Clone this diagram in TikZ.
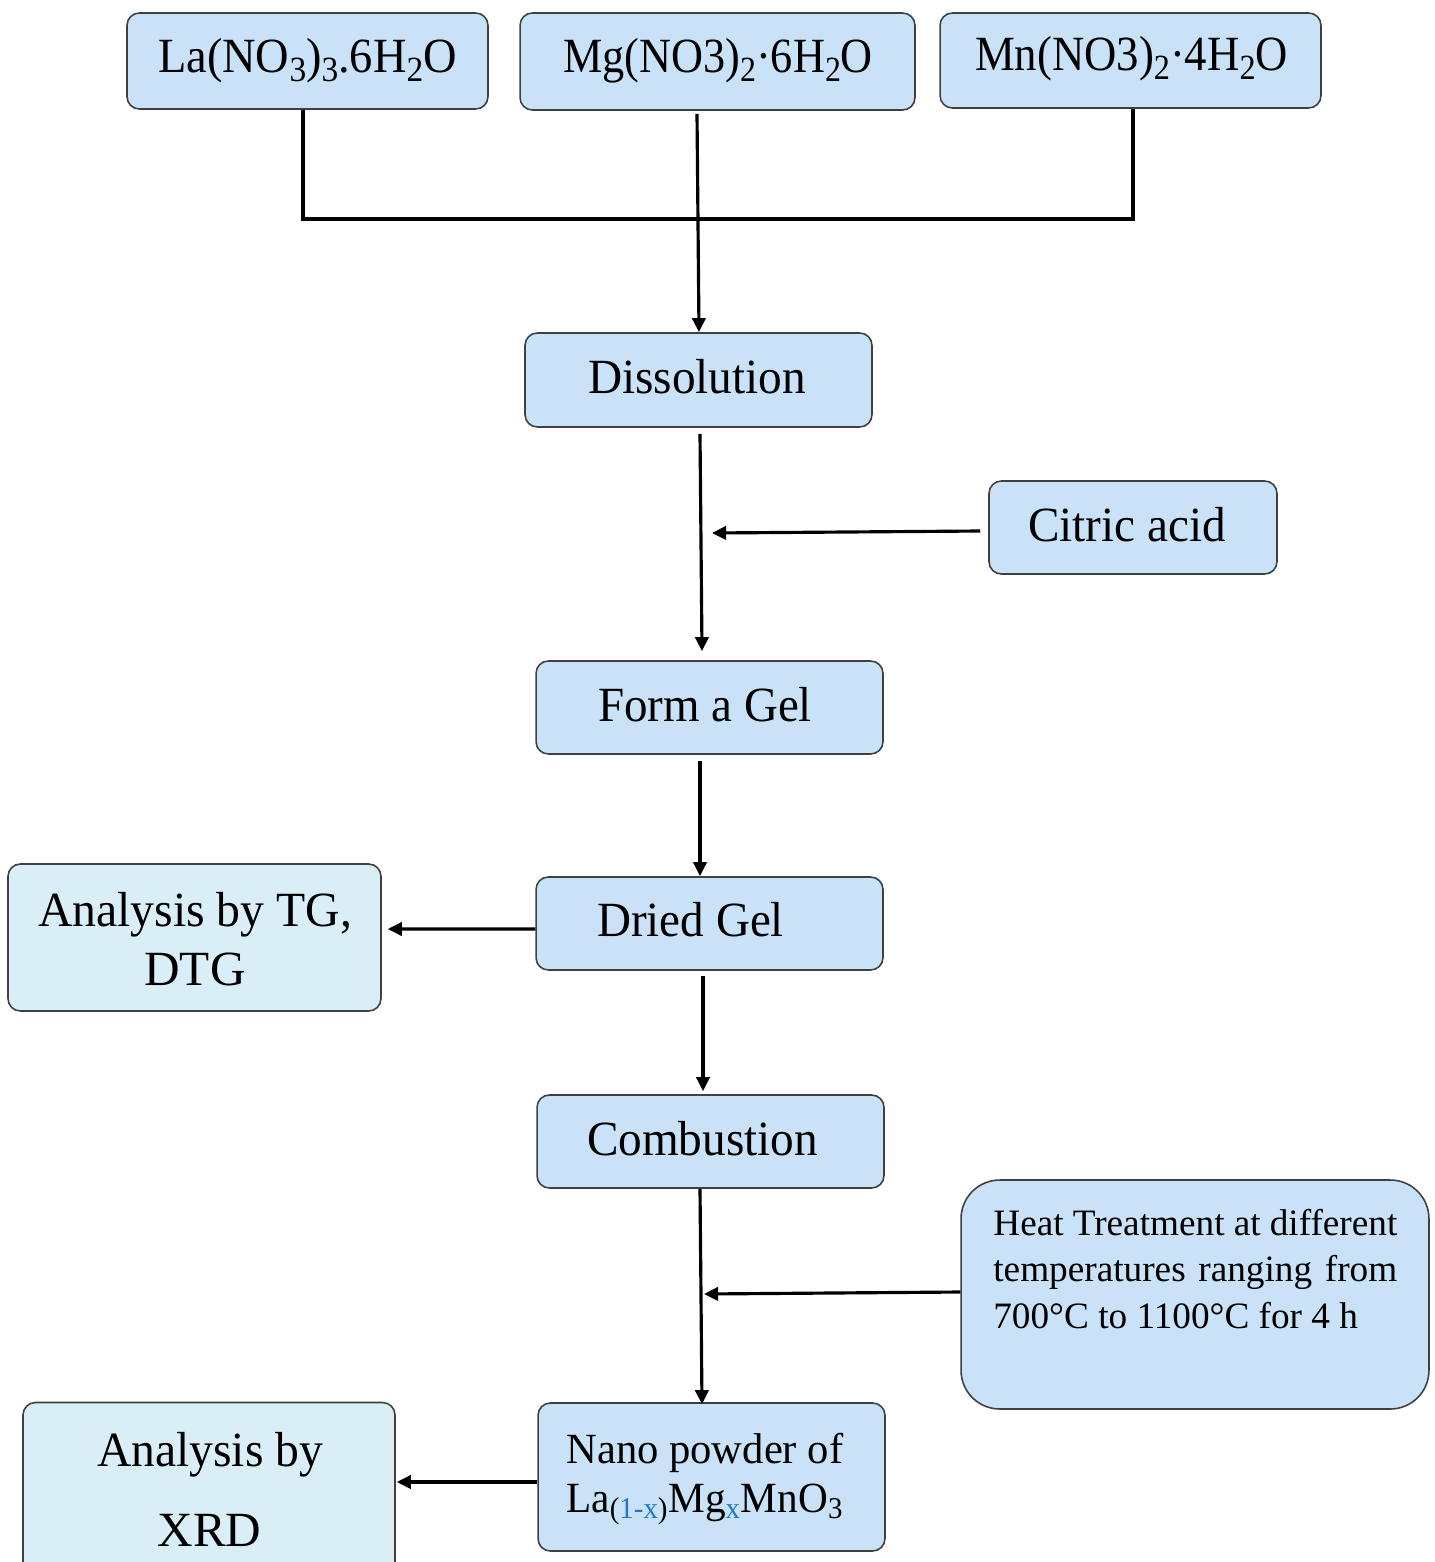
\documentclass[tikz,border=0pt]{standalone}
\usepackage{fontspec}
\setmainfont{Liberation Serif}
\usepackage{graphicx}
\usetikzlibrary{arrows.meta,calc}
\definecolor{boxblue}{HTML}{C9E2F8}
\definecolor{boxpale}{HTML}{DAEEF8}
\definecolor{subblue}{HTML}{1F78C8}
\newcommand\sbs[1]{\raisebox{-0.42ex}{\scalebox{0.72}{#1}}}
\newcommand\fitw[2]{\resizebox{#1}{\height}{#2}}
\begin{document}
\begin{tikzpicture}[x=0.02cm,y=-0.02cm,
  box/.style={draw=black!75,line width=0.9pt,fill=boxblue,rounded corners=7pt,inner sep=0pt},
  pale/.style={box,fill=boxpale},
  txt/.style={inner sep=0pt,anchor=base,font=\fontsize{28}{32}\selectfont},
  conn/.style={line width=1.8pt,-{Triangle[length=8pt,width=7.5pt]}},
  joint/.style={line width=2.3pt}]
\useasboundingbox (0,0) rectangle (1435,1562);

% boxes
\node[box,minimum width=7.22cm,minimum height=1.92cm] (laB) at (307.5,61) {};
\node[box,minimum width=7.90cm,minimum height=1.94cm] (mgB) at (717.5,61.5) {};
\node[box,minimum width=7.62cm,minimum height=1.90cm] (mnB) at (1130.5,60.5) {};
\node[box,minimum width=6.94cm,minimum height=1.88cm] (dsB) at (698.5,380) {};
\node[box,minimum width=5.76cm,minimum height=1.86cm] (caB) at (1133,527.5) {};
\node[box,minimum width=6.94cm,minimum height=1.86cm] (fgB) at (709.5,707.5) {};
\node[box,minimum width=6.94cm,minimum height=1.86cm] (drB) at (709.5,923.5) {};
\node[pale,minimum width=7.46cm,minimum height=2.94cm] (tgB) at (194.5,937.5) {};
\node[box,minimum width=6.94cm,minimum height=1.86cm] (cbB) at (710.5,1141.5) {};
\node[box,rounded corners=22pt,minimum width=9.36cm,minimum height=4.58cm] (htB) at (1195,1294.5) {};
\node[box,minimum width=6.94cm,minimum height=2.96cm] (npB) at (711.5,1477) {};
\node[pale,minimum width=7.44cm,minimum height=3.50cm] (xrB) at (209,1490) {};

% texts
\node[txt] (laT) at (307.5,72) {\fitw{5.98cm}{La(NO\sbs{3})\sbs{3}.6H\sbs{2}O}};
\node[txt] (mgT) at (718,72) {\fitw{6.2cm}{Mg(NO3)\sbs{2}·6H\sbs{2}O}};
\node[txt] (mnT) at (1131.5,70) {\fitw{6.26cm}{Mn(NO3)\sbs{2}·4H\sbs{2}O}};
\node[txt] (dsT) at (697,393) {\fitw{4.36cm}{Dissolution}};
\node[txt] (caT) at (1127,541) {\fitw{3.96cm}{Citric acid}};
\node[txt] (fgT) at (705,721) {\fitw{4.28cm}{Form a Gel}};
\node[txt] (drT) at (690.5,936) {\fitw{3.74cm}{Dried Gel}};
\node[txt] (cbT) at (702.5,1155) {\fitw{4.62cm}{Combustion}};
\node[txt] (tgT1) at (195,926) {\fitw{6.28cm}{Analysis by TG,}};
\node[txt] (tgT2) at (195,985) {DTG};
\node[txt] (xrT1) at (210,1466) {\fitw{4.52cm}{Analysis by}};
\node[txt] (xrT2) at (209.5,1546) {XRD};
\node[inner sep=0pt,anchor=base west,font=\fontsize{21.2}{26.7}\selectfont] (htT) at (993,1235)
  {\parbox[t]{8.08cm}{\raggedright Heat Treatment at different\\
   \makebox[8.08cm][s]{temperatures ranging from}\\
   700°C to 1100°C for 4 h}};
\node[inner sep=0pt,anchor=base west,font=\fontsize{24.5}{28}\selectfont] (npT1) at (566,1463) {\fitw{5.54cm}{Nano powder of}};
\node[inner sep=0pt,anchor=base west,font=\fontsize{24.5}{28}\selectfont] (npT2) at (566,1512)
  {\fitw{5.54cm}{La\textsubscript{(\textcolor{subblue}{1-x})}Mg\textsubscript{\textcolor{subblue}{x}}MnO\textsubscript{3}}};

% connectors
\coordinate (jl) at (303,219);
\coordinate (jr) at (1135,219);
\coordinate (jm) at (1133,219);
\coordinate (mgx) at (697,0);
\draw[joint] (laB.south -| jl) -- (jl) -- (jr);
\draw[joint] (mnB.south -| jm) -- (jm);
\draw[conn] ($(mgB.south -| mgx)+(0,3)$) -- ($(dsB.north)+(0.5,0)$);
\draw[conn] ($(dsB.south)+(1.5,6)$) -- ($(fgB.north)+(-7.5,-9)$);
\coordinate (caend) at (712,533);
\draw[conn] ($(caB.west)+(-8,3.5)$) -- (caend);
\draw[conn] ($(fgB.south)+(-9.5,6)$) -- ($(drB.north)+(-9.5,0)$);
\draw[conn] ($(drB.west)+(0,5.5)$) -- ($(tgB.east)+(6,-8.5)$);
\draw[conn] ($(drB.south)+(-6.5,5)$) -- ($(cbB.north)+(-7.5,-3)$);
\draw[conn] ($(cbB.south)+(-10.5,0)$) -- ($(npB.north)+(-9.5,2)$);
\coordinate (htend) at (704,1294);
\draw[conn] ($(htB.west)+(0,-2.5)$) -- (htend);
\draw[conn] ($(npB.west)+(0,5)$) -- ($(xrB.east)+(1,-8)$);
\end{tikzpicture}
\end{document}
